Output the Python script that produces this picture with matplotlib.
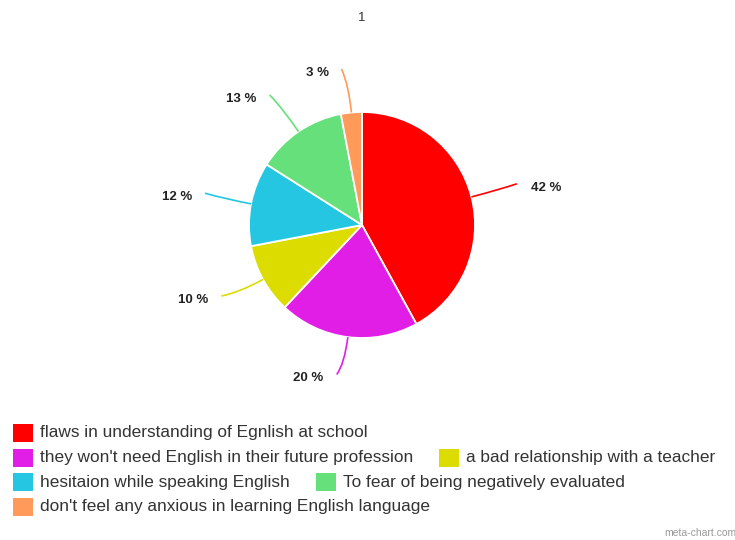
import numpy as np
import matplotlib
matplotlib.use("Agg")
import matplotlib.pyplot as plt
from matplotlib.patches import Rectangle, PathPatch
from matplotlib.path import Path

labels = ["flaws in understanding of Egnlish at school",
          "they won't need English in their future profession",
          "a bad relationship with a teacher",
          "hesitaion while speaking English",
          "To fear of being negatively evaluated",
          "don't feel any anxious in learning English language"]
values = [42, 20, 10, 12, 13, 3]
colors = ["#FF0000", "#E01EE6", "#DCDC00", "#24C6E2", "#66E07A", "#FF9A5A"]
title = "1"

W, H = 735, 540
fig = plt.figure(figsize=(W / 100, H / 100), dpi=100)
ax = fig.add_axes([0, 0, 1, 1])
ax.set_axis_off()

cx, cy, R = 362, H - 225, 113
wedges, _ = ax.pie(values, colors=colors, startangle=90, counterclock=False,
                   center=(cx, cy), radius=R, frame=True,
                   wedgeprops=dict(edgecolor="white", linewidth=1.3))
ax.set_xlim(0, W)
ax.set_ylim(0, H)
ax.set_aspect("auto")
ax.set_axis_off()

# leader lines and labels
total = sum(values)
cum = 0
for v, c in zip(values, colors):
    mid = (cum + v / 2) / total
    cum += v
    ang = np.deg2rad(90 - mid * 360)
    d = np.array([np.cos(ang), np.sin(ang)])
    p0 = np.array([cx, cy]) + R * d
    p1 = np.array([cx, cy]) + R * 1.24 * d
    side = 1 if d[0] > 0.3 else -1
    p2 = np.array([cx, cy]) + R * 1.36 * d + np.array([side * 6, 3])
    path = Path([p0, p1, p2], [Path.MOVETO, Path.CURVE3, Path.CURVE3])
    ax.add_patch(PathPatch(path, facecolor="none", edgecolor=c, lw=1.2))
    if side > 0:
        ax.text(p2[0] + 14, p2[1] - 4, f"{v} %", ha="left", va="center",
                fontsize=9.5, fontweight="bold", color="#222222",
                family="Liberation Sans")
    else:
        ax.text(p2[0] - 13, p2[1] - 4, f"{v} %", ha="right", va="center",
                fontsize=9.5, fontweight="bold", color="#222222",
                family="Liberation Sans")

ax.text(cx, H - 18, title, ha="center", va="center", fontsize=9.5,
        color="#333333", family="Liberation Sans")

# legend (flow layout)
fig.canvas.draw()
renderer = fig.canvas.get_renderer()
x0, x, y = 13, 13, H - 433
maxw = 725
row_h = 24.5
for lab, c in zip(labels, colors):
    t = ax.text(0, 0, lab, fontsize=12.4, color="#333333", va="center",
                ha="left", family="Liberation Sans")
    tw = t.get_window_extent(renderer).width
    itemw = 27 + tw
    if x > x0 and x + itemw > maxw:
        x = x0
        y -= row_h
    ax.add_patch(Rectangle((x, y - 9), 20, 18, facecolor=c, edgecolor="none"))
    t.set_position((x + 27, y))
    x += itemw + 26

ax.text(W + 1, H - 533, "meta-chart.com", ha="right", va="center",
        fontsize=7.5, color="#999999", family="Liberation Sans")

fig.savefig("out.png", dpi=100)
